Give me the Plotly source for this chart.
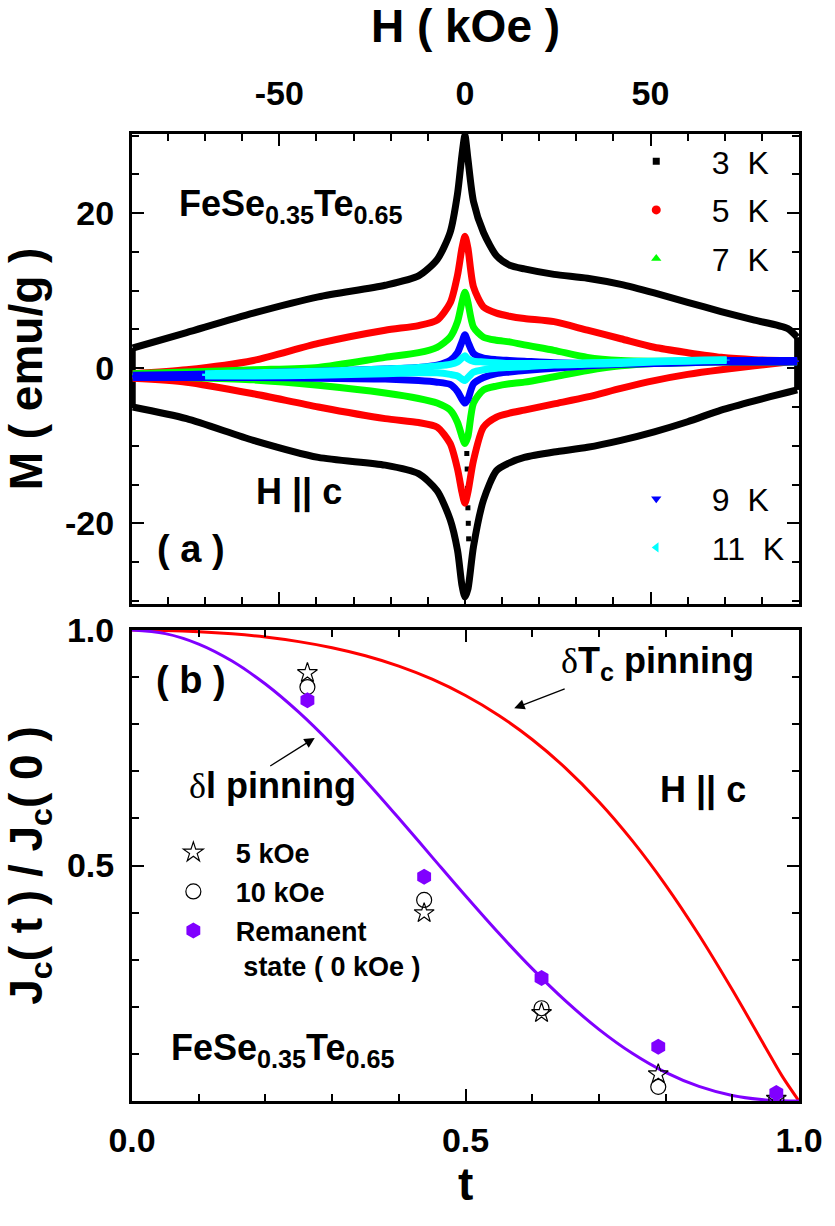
import plotly.graph_objects as go

# ---------------- panel (a): M(H) loops ----------------
H_grid = [-89.5, -75, -57, -39.5, -21.5, -12.5, -7.5, -4, -2, -0.8, 0, 0.8, 2.3, 5,
          8.5, 12, 16, 24, 33, 42, 51, 60, 69, 78, 87, 89.5]

M_up_3K = [2.6, 4.6, 7.1, 9.2, 10.7, 11.9, 14.0, 17.5, 22.5, 27.5, 30.0, 27.0, 21.5, 17.5,
           14.5, 13.3, 12.8, 12.1, 11.6, 10.8, 9.7, 8.5, 7.3, 6.2, 5.1, 4.0]
M_dn_3K = [-5.0, -6.5, -9.3, -11.5, -12.5, -13.6, -15.8, -19.5, -23.5, -28.0, -29.5, -28.5, -23.0, -17.0,
           -13.2, -12.2, -11.5, -10.8, -10.2, -9.3, -8.2, -6.9, -5.4, -4.2, -3.1, -2.8]

M_up_5K = [-0.7, -0.2, 1.0, 3.2, 4.9, 5.5, 6.2, 8.4, 12.0, 15.5, 17.0, 15.5, 10.5, 7.9,
           7.1, 6.7, 6.4, 6.0, 4.9, 3.8, 2.7, 2.0, 1.4, 1.1, 1.0, 1.0]
M_dn_5K = [-1.3, -1.8, -3.3, -5.0, -6.5, -7.0, -7.6, -9.7, -13.0, -16.0, -17.4, -16.0, -11.9, -7.6,
           -6.3, -5.8, -5.4, -4.6, -3.7, -2.6, -1.6, -0.8, -0.2, 0.3, 0.8, 0.9]

M_up_7K = [-0.7, -0.5, -0.2, 0.1, 1.4, 2.0, 2.7, 4.0, 6.0, 8.5, 9.8, 8.5, 5.3, 4.0,
           3.6, 3.4, 3.0, 2.3, 1.4, 1.0, 0.9, 0.9, 0.9, 0.9, 0.9, 0.9]
M_dn_7K = [-1.0, -1.2, -1.5, -2.2, -3.2, -3.9, -4.5, -5.4, -7.0, -8.8, -9.7, -8.8, -4.5, -2.8,
           -2.3, -2.0, -1.8, -1.1, -0.3, 0.3, 0.6, 0.7, 0.8, 0.8, 0.8, 0.8]

M_up_9K = [-0.9, -0.8, -0.6, -0.4, -0.1, 0.1, 0.4, 1.0, 2.0, 3.4, 4.3, 3.4, 1.9, 1.3,
           1.1, 1.0, 0.9, 0.7, 0.6, 0.7, 0.8, 0.9, 1.0, 1.0, 1.0, 1.0]
M_dn_9K = [-1.2, -1.2, -1.2, -1.3, -1.4, -1.6, -1.8, -2.1, -3.0, -4.0, -4.5, -4.0, -2.0, -1.2,
           -0.7, -0.5, -0.3, 0.0, 0.3, 0.5, 0.6, 0.7, 0.8, 0.8, 0.8, 0.8]

H_grid_11K = [-70, -57, -39.5, -21.5, -12.5, -7.5, -4, -2, -0.8, 0, 0.8, 2.3, 5,
              8.5, 12, 16, 24, 33, 42, 51, 60, 69, 70.5]
M_up_11K = [-0.7, -0.6, -0.4, -0.1, 0.1, 0.3, 0.5, 0.8, 1.3, 1.6, 1.2, 0.9, 0.8,
            0.7, 0.6, 0.6, 0.6, 0.7, 0.8, 0.9, 1.0, 1.1, 1.1]
M_dn_11K = [-1.0, -1.0, -0.9, -0.7, -0.6, -0.6, -0.8, -1.0, -1.4, -1.6, -1.2, -0.5, -0.2,
            0.0, 0.1, 0.2, 0.4, 0.5, 0.6, 0.8, 0.9, 1.0, 1.0]

H_sweep_3K = [0.5, 0.6, 0.7, 0.8, 0.9, 1.0]
M_sweep_3K = [-11.0, -13.0, -15.5, -18.0, -20.0, -22.0]

temps = ["3 K", "5 K", "7 K", "9 K", "11 K"]
colors = ["#000000", "#ff0000", "#00ff00", "#0000ff", "#00ffff"]
symbols = ["square", "circle", "triangle-up", "triangle-down", "triangle-left"]
sym_sizes = [7, 9, 9, 9, 9]

# ---------------- panel (b): Jc(t)/Jc(0) ----------------
t_curve = [0.0, 0.05, 0.1, 0.15, 0.2, 0.25, 0.3, 0.35, 0.4, 0.45, 0.5, 0.55, 0.6, 0.65,
           0.7, 0.75, 0.8, 0.85, 0.9, 0.95, 0.975, 1.0]
jc_dl = [1.0, 0.9925, 0.9703, 0.9342, 0.8854, 0.8256, 0.7566, 0.6808, 0.6005, 0.5179,
         0.4357, 0.3560, 0.2810, 0.2125, 0.1522, 0.1013, 0.0607, 0.0309, 0.0117, 0.0022,
         0.0005, 0.0]
jc_dtc = [1.0, 0.9992, 0.9966, 0.9920, 0.9852, 0.9755, 0.9625, 0.9454, 0.9234, 0.8956,
          0.8610, 0.8187, 0.7676, 0.7069, 0.6356, 0.5529, 0.4586, 0.3526, 0.2362, 0.1131,
          0.0522, 0.0]

t_pts = [0.263, 0.438, 0.614, 0.789, 0.966]
jc_5kOe = [0.909, 0.399, 0.187, 0.057, 0.005]
jc_10kOe = [0.879, 0.427, 0.197, 0.030, 0.004]
jc_rem = [0.851, 0.476, 0.261, 0.115, 0.017]

FONT = "Liberation Sans"
NB = "\u00a0"

fig = go.Figure()

loops = [
    (H_grid, M_up_3K, M_dn_3K),
    (H_grid, M_up_5K, M_dn_5K),
    (H_grid, M_up_7K, M_dn_7K),
    (H_grid, M_up_9K, M_dn_9K),
    (H_grid_11K, M_up_11K, M_dn_11K),
]
for i, (hh, up, dn) in enumerate(loops):
    for branch in (up, dn):
        fig.add_trace(go.Scatter(x=hh, y=branch, mode="lines",
                                 line=dict(color=colors[i], width=7, shape="spline", smoothing=0.7),
                                 showlegend=False, xaxis="x", yaxis="y", hoverinfo="skip"))
    # field-reversal closures at the ends of the sweep
    fig.add_trace(go.Scatter(x=[hh[0], hh[0], None, hh[-1], hh[-1]],
                             y=[up[0], dn[0], None, up[-1], dn[-1]], mode="lines",
                             line=dict(color=colors[i], width=6),
                             showlegend=False, xaxis="x", yaxis="y", hoverinfo="skip"))
    if i == 0:
        fig.add_trace(go.Scatter(x=H_sweep_3K, y=M_sweep_3K, mode="markers",
                                 marker=dict(symbol="square", size=5, color="#000000"),
                                 showlegend=False, xaxis="x", yaxis="y"))

for i in range(5):
    fig.add_trace(go.Scatter(x=[None], y=[None], mode="markers",
                             name=NB * 4 + temps[i].replace(" ", NB + NB),
                             marker=dict(symbol=symbols[i], size=sym_sizes[i], color=colors[i]),
                             legend="legend" if i < 3 else "legend2", legendgroup=temps[i],
                             xaxis="x", yaxis="y"))

# panel (b)
fig.add_trace(go.Scatter(x=t_curve, y=jc_dtc, mode="lines", line=dict(color="#ff0000", width=3, shape="spline"),
                         showlegend=False, xaxis="x2", yaxis="y2"))
fig.add_trace(go.Scatter(x=t_curve, y=jc_dl, mode="lines", line=dict(color="#8000ff", width=3, shape="spline"),
                         showlegend=False, xaxis="x2", yaxis="y2"))
fig.add_trace(go.Scatter(x=t_pts, y=jc_5kOe, mode="markers", name=NB * 3 + "5 kOe",
                         marker=dict(symbol="star-open", size=15, color="#000000", line=dict(width=1.2)),
                         legend="legend3", legendgroup="a", xaxis="x2", yaxis="y2"))
fig.add_trace(go.Scatter(x=t_pts, y=jc_10kOe, mode="markers", name=NB * 3 + "10 kOe",
                         marker=dict(symbol="circle-open", size=15, color="#000000", line=dict(width=1.2)),
                         legend="legend3", legendgroup="b", xaxis="x2", yaxis="y2"))
fig.add_trace(go.Scatter(x=t_pts, y=jc_rem, mode="markers",
                         name=NB * 3 + "Remanent<br>" + NB * 4 + "state ( 0 kOe )",
                         marker=dict(symbol="hexagon", size=16, color="#8000ff"),
                         legend="legend3", legendgroup="c", xaxis="x2", yaxis="y2"))

bold36 = dict(family=FONT, size=36, color="#000000", weight="bold")
bold38 = dict(family=FONT, size=38, color="#000000", weight="bold")
titlefont = dict(family=FONT, size=46, color="#000000", weight="bold")
delta = "<span style='font-family:Liberation Serif;font-weight:normal'>δ</span>"
ann = []
# panel (a) texts
ann.append(dict(x=-77.6, y=20.9, xref="x", yref="y", xanchor="left", yanchor="middle",
                text="FeSe<sub>0.35</sub>Te<sub>0.65</sub>", showarrow=False, font=bold36))
ann.append(dict(x=-56.8, y=-16.0, xref="x", yref="y", xanchor="left", yanchor="middle",
                text="H || c", showarrow=False, font=bold36))
ann.append(dict(x=-83.5, y=-23.3, xref="x", yref="y", xanchor="left", yanchor="middle",
                text="( a )", showarrow=False, font=bold38))
# panel (b) texts
ann.append(dict(x=0.033, y=0.895, xref="x2", yref="y2", xanchor="left", yanchor="middle",
                text="( b )", showarrow=False, font=bold38))
ann.append(dict(x=0.64, y=0.93, xref="x2", yref="y2", xanchor="left", yanchor="middle",
                text=delta + "T<sub>c</sub> pinning", showarrow=False, font=bold36))
ann.append(dict(x=0.083, y=0.671, xref="x2", yref="y2", xanchor="left", yanchor="middle",
                text=delta + "l pinning", showarrow=False, font=bold36))
ann.append(dict(x=0.788, y=0.66, xref="x2", yref="y2", xanchor="left", yanchor="middle",
                text="H || c", showarrow=False, font=bold36))
ann.append(dict(x=0.056, y=0.108, xref="x2", yref="y2", xanchor="left", yanchor="middle",
                text="FeSe<sub>0.35</sub>Te<sub>0.65</sub>", showarrow=False, font=bold36))
# x-axis title of panel (b)
ann.append(dict(x=0.5, y=-0.086, xref="x2 domain", yref="paper", xanchor="center", yanchor="middle",
                text="<b>t</b>", showarrow=False, font=titlefont))
# arrows
ann.append(dict(x=0.573, y=0.834, xref="x2", yref="y2", ax=52, ay=-20, text="", showarrow=True,
                arrowhead=2, arrowsize=1.6, arrowwidth=1.3, arrowcolor="#000000"))
ann.append(dict(x=0.274, y=0.771, xref="x2", yref="y2", ax=-46, ay=29, text="", showarrow=True,
                arrowhead=2, arrowsize=1.6, arrowwidth=1.3, arrowcolor="#000000"))

tickfont = dict(family=FONT, size=34, color="#000000", weight="bold")
axis_common = dict(showline=True, linewidth=3, linecolor="#000000", mirror="ticks",
                   ticks="inside", ticklen=12, tickwidth=2, tickcolor="#000000",
                   showgrid=False, zeroline=False, tickfont=tickfont)


def b(labels):
    return ["<b>" + s + "</b>" if s else "" for s in labels]


fig.update_layout(
    width=835, height=1226,
    margin=dict(l=132, r=29, t=134, b=125),
    paper_bgcolor="#ffffff", plot_bgcolor="#ffffff",
    font=dict(family=FONT, color="#000000"),
    xaxis=dict(domain=[0, 1], anchor="y", side="top", range=[-89.7, 90.0],
               tickvals=[-50, 0, 50], ticktext=b(["-50", "0", "50"]),
               minor=dict(dtick=10, ticks="inside", ticklen=7, tickwidth=2, tickcolor="#000000"),
               title=dict(text="<b>H ( kOe )</b>", font=titlefont, standoff=26),
               ticklabelstandoff=12, **axis_common),
    yaxis=dict(domain=[0.514, 1], anchor="x", range=[-30.4, 30.2],
               tickvals=[-20, 0, 20], ticktext=b(["-20", "0", "20"]),
               minor=dict(dtick=5, ticks="inside", ticklen=7, tickwidth=2, tickcolor="#000000"),
               title=dict(text="<b>M ( emu/g )</b>", font=titlefont, standoff=10),
               ticklabelstandoff=8, **axis_common),
    xaxis2=dict(domain=[0, 1], anchor="y2", range=[0, 1.0],
                tickvals=[0, 0.5, 1.0], ticktext=b(["0.0", "0.5", "1.0"]),
                minor=dict(dtick=0.1, ticks="inside", ticklen=7, tickwidth=2, tickcolor="#000000"),
                ticklabelstandoff=7, **axis_common),
    yaxis2=dict(domain=[0, 0.487], anchor="x2", range=[0, 1.0],
                tickvals=[0, 0.5, 1.0], ticktext=b(["", "0.5", "1.0"]),
                minor=dict(dtick=0.1, ticks="inside", ticklen=7, tickwidth=2, tickcolor="#000000"),
                title=dict(text="<b>J<sub>c</sub>( t ) / J<sub>c</sub>( 0 )</b>", font=titlefont, standoff=10),
                ticklabelstandoff=8, **axis_common),
    legend=dict(x=0.756, y=1.0, xanchor="left", yanchor="top", bgcolor="rgba(0,0,0,0)",
                font=dict(family=FONT, size=32, color="#000000"), tracegroupgap=4,
                traceorder="grouped"),
    legend2=dict(x=0.756, y=0.651, xanchor="left", yanchor="top", bgcolor="rgba(0,0,0,0)",
                 font=dict(family=FONT, size=32, color="#000000"), tracegroupgap=4,
                 traceorder="grouped"),
    legend3=dict(x=0.062, y=0.282, xanchor="left", yanchor="top", bgcolor="rgba(0,0,0,0)",
                 font=dict(family=FONT, size=27, color="#000000", weight="bold"), tracegroupgap=1,
                 traceorder="grouped", valign="top"),
    annotations=ann,
    showlegend=True,
)

fig.write_html("out.html")
